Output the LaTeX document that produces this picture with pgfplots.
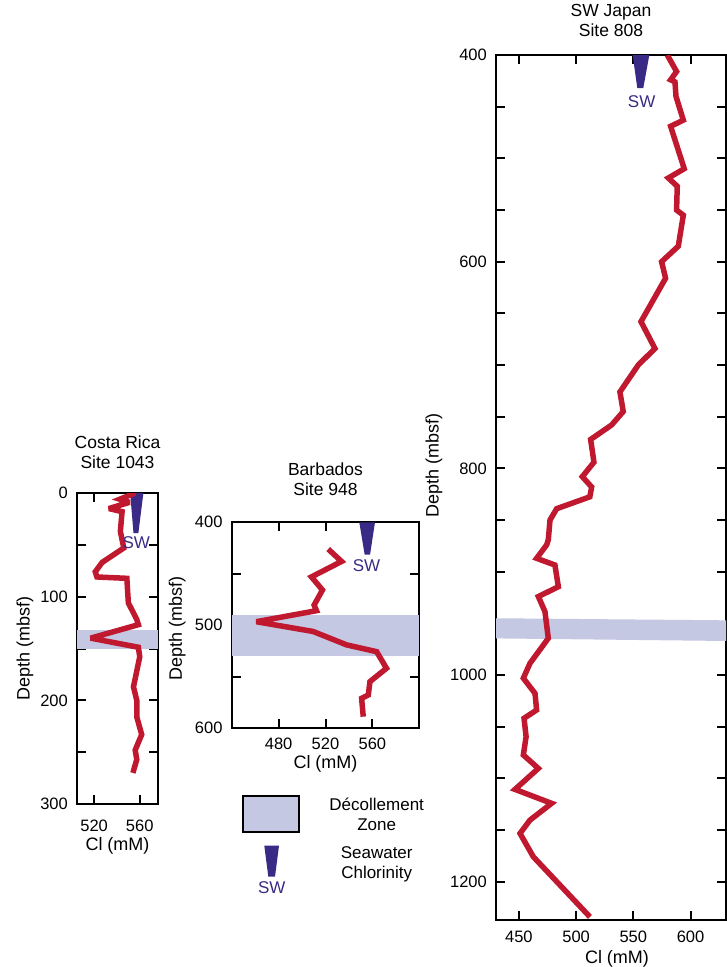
\documentclass[border=0pt]{standalone}
\usepackage{fontspec}
\setmainfont{Liberation Sans}
\usepackage{pgfplots}
\pgfplotsset{compat=1.18}
\definecolor{clred}{HTML}{C0182F}
\definecolor{band}{HTML}{C5C8E3}
\definecolor{swc}{HTML}{3A2A85}
\pgfplotsset{
 panel/.style={
  scale only axis, y dir=reverse,
  axis line style={line width=2pt, black},
  every tick/.append style={line width=2pt, black},
  tick align=inside, major tick length=9pt, minor tick length=9pt,
  /pgf/number format/assume math mode=true,
  /pgf/number format/1000 sep={},
  tick label style={font=\fontsize{16.5}{19}\selectfont},
  label style={font=\fontsize{18}{21}\selectfont},
  yticklabel style={inner sep=0pt, anchor=east, xshift=-9pt},
  xticklabel style={inner sep=0pt, anchor=north},
  title style={align=center, at={(axis description cs:0.5,1)}, anchor=south, inner sep=0pt, font=\fontsize{17.5}{20}\selectfont},
  xlabel style={at={(axis description cs:0.5,0)}, anchor=north, inner sep=0pt},
  ylabel style={anchor=center, inner sep=0pt},
  xlabel={Cl (mM)}, ylabel={Depth (mbsf)},
 },
 redline/.style={clred, line width=5.5pt, mark=none, line join=miter, miter limit=3},
 bandfill/.style={fill=band, draw=none, mark=none},
 wedge/.style={fill=swc, draw=none, mark=none},
}
\begin{document}
\fontsize{17}{20}\selectfont
\begin{tikzpicture}
\path[use as bounding box] (0pt,0pt) rectangle (727pt,-967pt);

% Costa Rica
\begin{axis}[panel, at={(77pt,-493pt)}, anchor=north west, width=81pt, height=311pt,
  xmin=505, xmax=576, ymin=0, ymax=300,
  xtick={520,560}, ytick={0,100,200,300}, minor ytick={50,150,250},
  xticklabel style={yshift=-16pt},
  xlabel style={yshift=-33pt},
  ylabel style={at={(axis description cs:-0.642,0.5)}},
  title={Costa Rica\\Site 1043}, title style={yshift=18pt}]
\addplot[bandfill] coordinates {(505,132) (576,132) (576,150) (505,150)} -- cycle;
\addplot[wedge] coordinates {(551.6,0) (563.2,0) (558.8,38.6) (554.5,38.6)} -- cycle;
\addplot[redline] coordinates {(556,0) (542.5,6) (551,9) (533,15) (544.5,18) (543,37) (546,53) (527,67) (521,76) (522.5,81) (548.7,82.3) (550,106) (557.4,122) (558.8,127) (517,140) (558.8,148.8) (560,158) (554.5,187) (557.4,200) (557.4,216) (561.7,233) (556,248) (557.4,257) (554,270)};
\node[text=swc] at (axis cs:557,48) {SW};
\end{axis}

% Barbados
\begin{axis}[panel, at={(231.7pt,-522.3pt)}, anchor=north west, width=187.6pt, height=206pt,
  xmin=440, xmax=600, ymin=400, ymax=600,
  xtick={480,520,560}, ytick={400,500,600}, minor ytick={450,550},
  xticklabel style={yshift=-9pt},
  xlabel style={yshift=-27pt},
  ylabel style={at={(axis description cs:-0.29,0.485)}},
  title={Barbados\\Site 948}, title style={yshift=20pt}]
\addplot[bandfill] coordinates {(440,490) (600,490) (600,530) (440,530)} -- cycle;
\addplot[wedge] coordinates {(548.8,400) (562.2,400) (558,431.4) (553.4,431.4)} -- cycle;
\addplot[redline] coordinates {(522.3,426) (533.7,438) (508,453) (517.4,465.7) (510.3,480.3) (512.3,485.8) (461,496.5) (509.5,506) (538,519) (563.6,525.6) (572,541.7) (557.9,554.7) (556.5,567.6) (550.8,570.9) (552.2,588.7)};
\node[text=swc] at (axis cs:555,442.4) {SW};
\end{axis}

% SW Japan
\begin{axis}[panel, at={(496pt,-55pt)}, anchor=north west, width=230pt, height=865pt,
  xmin=430, xmax=631, ymin=400, ymax=1237,
  xtick={450,500,550,600}, ytick={400,600,800,1000,1200},
  minor ytick={450,500,550,650,700,750,850,900,950,1050,1100,1150},
  xticklabel style={yshift=-11pt},
  xlabel style={yshift=-30pt, xshift=6pt},
  ylabel style={at={(axis description cs:-0.27,0.526)}},
  title={SW Japan\\Site 808}, title style={yshift=12pt}]
\addplot[bandfill] coordinates {(430,945) (631,947) (631,967) (430,964.5)} -- cycle;
\addplot[wedge] coordinates {(549.4,400) (564,400) (558.7,432) (553.5,432)} -- cycle;
\addplot[redline] coordinates {(579.7,400) (587.8,416) (582.6,424) (586.4,426) (587.3,440) (593.7,463) (582.6,469) (594.5,510) (580.6,519) (588.4,527) (587.8,550) (593.7,555) (589.3,585) (574.7,600) (578.2,616) (556.7,658) (568.9,684) (554.3,700) (538.3,726) (541.2,745) (531,758) (512.7,772) (515.6,794) (505.4,808) (513.6,818) (512,827.5) (483,839) (477.2,850) (475.7,869) (474.3,874) (465.5,887) (481.5,893.5) (484.5,914.5) (467,924) (472.8,938.6) (475.7,964.4) (459.7,988.6) (453.9,1003) (464.1,1017.7) (465.5,1033.8) (454.5,1041.8) (456.3,1059.6) (453.9,1077.3) (467,1090.3) (446.6,1110.6) (478.6,1124.1) (459.7,1140.3) (451,1153.2) (462.6,1175.8) (512.1,1234)};
\node[text=swc] at (axis cs:557.3,445) {SW};
\end{axis}

% Legend (overlay axis in pixel units)
\begin{axis}[at={(0pt,0pt)}, anchor=north west, scale only axis, width=727pt, height=967pt,
  xmin=0, xmax=727, ymin=0, ymax=967, y dir=reverse, hide axis, clip=false]
\addplot[fill=band, draw=black, line width=2pt, mark=none] coordinates {(243.3,796) (299,796) (299,831.7) (243.3,831.7)} -- cycle;
\addplot[wedge] coordinates {(264.3,845.7) (279,845.7) (275,876.7) (268.3,876.7)} -- cycle;
\node[text=swc] at (axis cs:271.7,888) {SW};
\node[align=center] at (axis cs:376.7,814.3) {Décollement\\Zone};
\node[align=center] at (axis cs:376.7,864) {Seawater\\Chlorinity};
\end{axis}
\end{tikzpicture}
\end{document}
